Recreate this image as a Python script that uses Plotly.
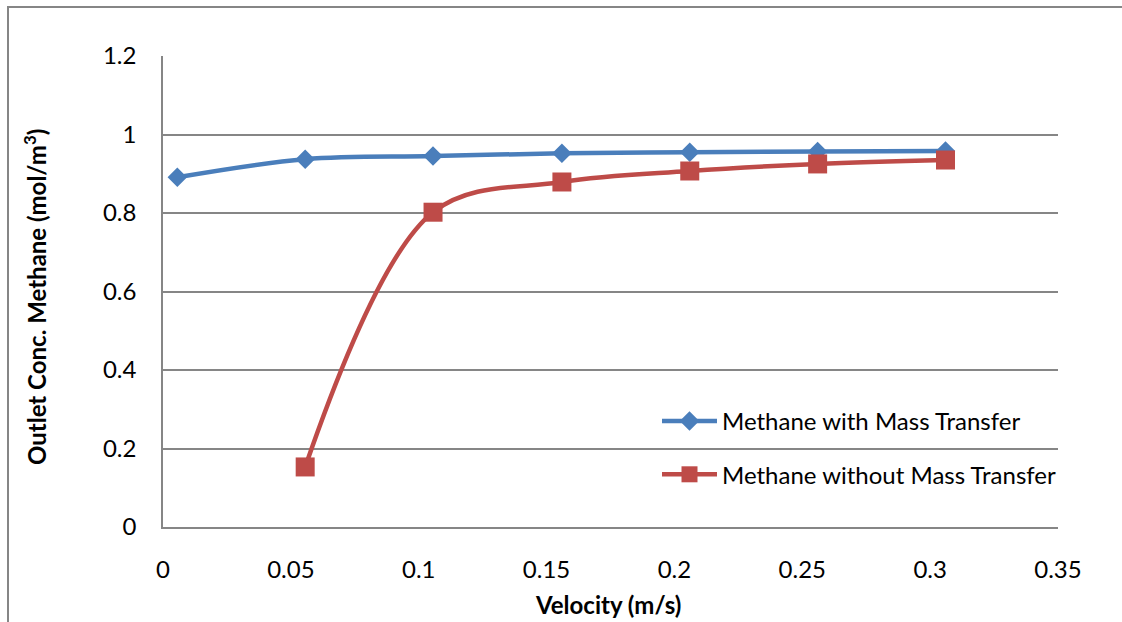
import plotly.graph_objects as go

velocity = [0.0056, 0.0556, 0.1056, 0.156, 0.206, 0.256, 0.306]
with_mt = [0.891, 0.937, 0.945, 0.952, 0.955, 0.957, 0.958]
velocity_wo = [0.0556, 0.1056, 0.156, 0.206, 0.256, 0.306]
without_mt = [0.153, 0.802, 0.879, 0.907, 0.925, 0.935]

FONT = "Lato"
BLUE = "#4A7EBB"
RED = "#BE4B48"
FS = 24

fig = go.Figure()
fig.add_trace(go.Scatter(
    x=velocity, y=with_mt, mode="lines+markers", name="Methane with Mass Transfer",
    line=dict(color=BLUE, width=4.5, shape="spline"),
    marker=dict(symbol="diamond", size=15, color=BLUE),
    legendgroup="a"))
fig.add_trace(go.Scatter(
    x=velocity_wo, y=without_mt, mode="lines+markers", name="Methane without Mass Transfer",
    line=dict(color=RED, width=4.5, shape="spline"),
    marker=dict(symbol="square", size=19, color=RED),
    legendgroup="b"))

L, R, T, B = 163, 64, 56, 95
W, H = 1122, 622
pw, ph = W - L - R, H - T - B

fig.update_layout(
    width=W, height=H,
    margin=dict(l=L, r=R, t=T, b=B),
    paper_bgcolor="white", plot_bgcolor="white",
    font=dict(family=FONT, size=FS, color="black"),
    showlegend=True,
    legend=dict(x=(657 - L) / pw, y=(527 - 399) / ph,
                xanchor="left", yanchor="top", bgcolor="rgba(0,0,0,0)",
                borderwidth=0, tracegroupgap=19, itemwidth=55, font=dict(size=FS)),
    xaxis=dict(range=[0, 0.35], tickvals=[0, 0.05, 0.1, 0.15, 0.2, 0.25, 0.3, 0.35],
               ticktext=["0", "0.05", "0.1", "0.15", "0.2", "0.25", "0.3", "0.35"],
               showgrid=False, zeroline=False, showline=True, linecolor="#868686",
               linewidth=1.5, ticks="", ticklabelstandoff=20),
    yaxis=dict(range=[0, 1.2], tickvals=[0, 0.2, 0.4, 0.6, 0.8, 1, 1.2],
               ticktext=["0", "0.2", "0.4", "0.6", "0.8", "1", "1.2"],
               showgrid=True, gridcolor="#868686", gridwidth=1.5, zeroline=False,
               showline=True, linecolor="#868686", linewidth=1.5, ticks="",
               ticklabelstandoff=20),
)

fig.add_annotation(text="<b>Outlet Conc. Methane (mol/m<sup>3</sup>)</b>", xref="paper", yref="paper",
                   x=(35 - L) / pw, y=(527 - 297) / ph, textangle=-90, showarrow=False,
                   xanchor="center", yanchor="middle", font=dict(size=FS))
fig.add_annotation(text="<b>Velocity (m/s)</b>", xref="paper", yref="paper",
                   x=(608 - L) / pw, y=(527 - 604) / ph, showarrow=False,
                   xanchor="center", yanchor="middle", font=dict(size=FS))

fig.add_shape(type="rect", xref="paper", yref="paper",
              x0=(8 - L) / pw, x1=(1135 - L) / pw, y0=(527 - 640) / ph, y1=(527 - 7) / ph,
              line=dict(color="#868686", width=2), fillcolor="rgba(0,0,0,0)", layer="below")

fig.write_html("out.html")
